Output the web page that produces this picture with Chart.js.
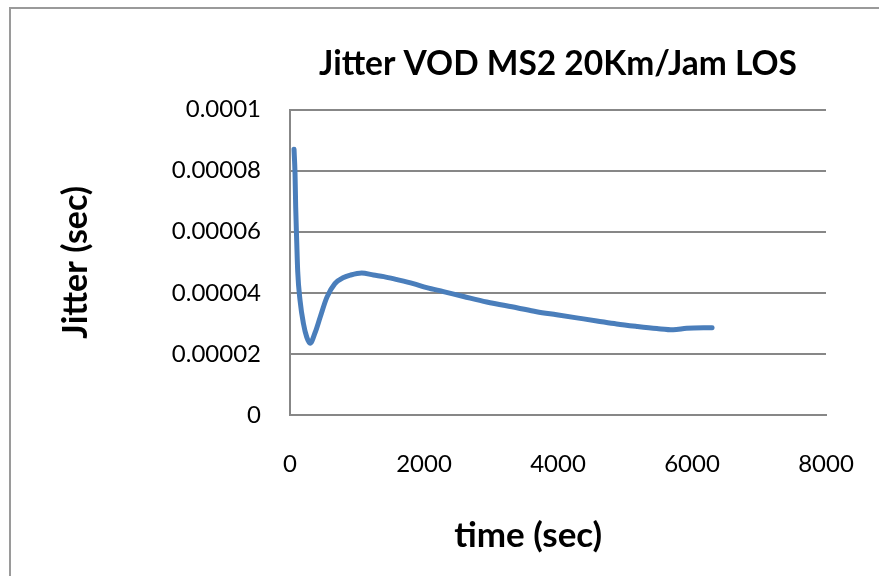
<!DOCTYPE html>
<html>
<head>
<meta charset="utf-8">
<script src="https://cdn.jsdelivr.net/npm/chart.js@4/dist/chart.umd.min.js"></script>
<style>
  html, body { margin: 0; padding: 0; background: #fff; overflow: hidden; }
  #wrap { position: relative; width: 879px; height: 576px; }
  #frame { position: absolute; left: 9px; top: 7px; width: 1000px; height: 700px;
           border-top: 2px solid #9a9a9a; border-left: 2px solid #9a9a9a; box-sizing: border-box; }
  canvas { position: absolute; left: 0; top: 0; }
</style>
</head>
<body>
<div id="wrap">
  <div id="frame"></div>
  <canvas id="c" width="879" height="576"></canvas>
</div>
<script>
const chartTitle = 'Jitter VOD MS2 20Km/Jam LOS';
const xAxisTitle = 'time (sec)';
const yAxisTitle = 'Jitter (sec)';
const xTickLabels = ['0', '2000', '4000', '6000', '8000'];
const yTickLabels = ['0', '0.00002', '0.00004', '0.00006', '0.00008', '0.0001'];

const timeSec = [60, 75, 85, 100, 115, 150, 200, 250, 300, 375, 450, 550, 670, 800, 900, 1070, 1245, 1400, 1600, 1840, 2040, 2290, 2590, 2935, 3385, 3680, 3980, 4280, 4580, 4875, 5175, 5475, 5720, 5920, 6300];
const jitterSec = [0.0000870, 0.0000790, 0.0000680, 0.0000570, 0.0000470, 0.0000375, 0.0000300, 0.0000255, 0.0000235, 0.0000270, 0.0000320, 0.0000385, 0.0000430, 0.0000450, 0.0000458, 0.0000465, 0.0000458, 0.0000453, 0.0000443, 0.0000430, 0.0000417, 0.0000404, 0.0000388, 0.0000370, 0.0000351, 0.0000338, 0.0000328, 0.0000318, 0.0000308, 0.0000298, 0.0000290, 0.0000283, 0.0000279, 0.0000284, 0.0000286];

const points = timeSec.map((t, i) => ({ x: t, y: jitterSec[i] }));
const gridColor = '#878787';

new Chart(document.getElementById('c'), {
  type: 'scatter',
  data: {
    datasets: [{
      data: points,
      showLine: true,
      borderColor: '#4a7ebb',
      borderWidth: 5,
      pointRadius: 0,
      cubicInterpolationMode: 'monotone',
      borderCapStyle: 'round',
      borderJoinStyle: 'round'
    }]
  },
  options: {
    responsive: false,
    animation: false,
    layout: { padding: { left: 0, right: 53, top: 0, bottom: 0 } },
    plugins: {
      legend: { display: false },
      tooltip: { enabled: false },
      title: {
        display: true,
        text: chartTitle,
        fullSize: false,
        color: '#000',
        font: { family: 'Lato', size: 33.5, weight: 'bold', lineHeight: 1.2 },
        padding: { top: 44, bottom: 25.3 }
      }
    },
    scales: {
      x: {
        type: 'linear',
        min: 0, max: 8000,
        afterFit: (s) => { s.height = 161; s.paddingLeft = 0; s.paddingRight = 0; },
        ticks: {
          stepSize: 2000,
          maxRotation: 0,
          padding: 35,
          color: '#000',
          font: { family: 'Lato', size: 24 },
          callback: (v, i) => xTickLabels[i]
        },
        grid: { display: false, drawTicks: false },
        border: { display: true, color: gridColor, width: 2 },
        title: {
          display: true, text: xAxisTitle + '       ', color: '#000',
          font: { family: 'Lato', size: 35, weight: 'bold', lineHeight: 1.2 },
          padding: { top: 0, bottom: 19 }
        }
      },
      y: {
        min: 0, max: 0.0001,
        afterFit: (s) => { s.width = 290; },
        ticks: {
          stepSize: 0.00002,
          padding: 29,
          color: '#000',
          font: { family: 'Lato', size: 24 },
          callback: (v, i) => yTickLabels[i]
        },
        grid: { color: gridColor, lineWidth: 2, drawTicks: false },
        border: { display: true, color: gridColor, width: 2 },
        title: {
          display: true, text: yAxisTitle, color: '#000',
          font: { family: 'Lato', size: 34, weight: 'bold', lineHeight: 1.2 },
          padding: { top: 56, bottom: 0 }
        }
      }
    }
  }
});
</script>
</body>
</html>
